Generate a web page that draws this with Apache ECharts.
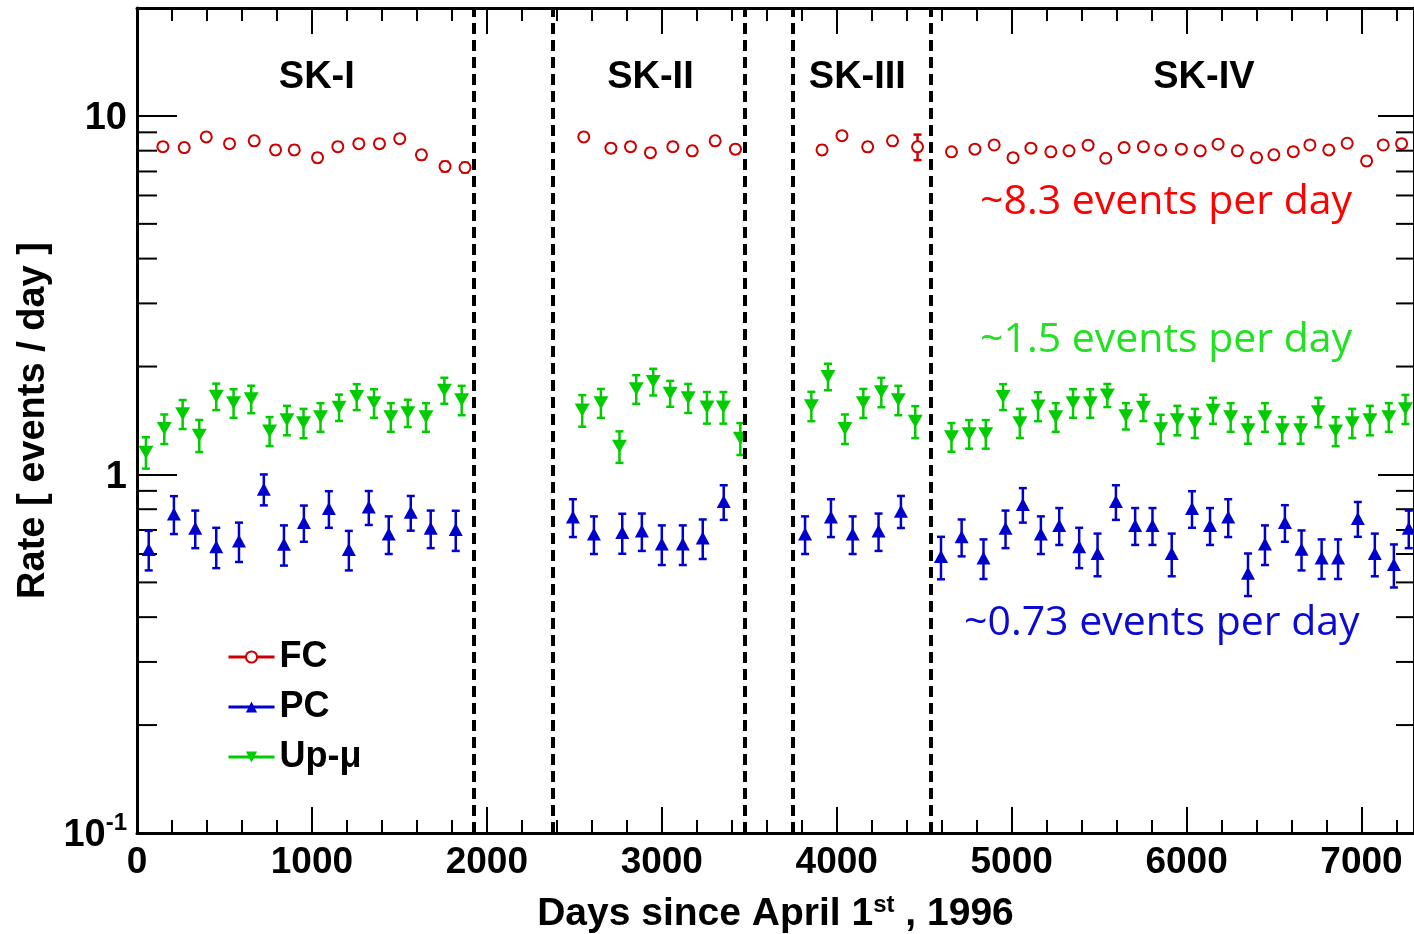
<!DOCTYPE html>
<html>
<head>
<meta charset="utf-8">
<script src="https://cdn.jsdelivr.net/npm/echarts@6/dist/echarts.min.js"></script>
<style>
  html, body { margin: 0; padding: 0; background: #fff; }
  #chart { width: 1414px; height: 934px; }
</style>
</head>
<body>
<div id="chart"></div>
<script>
// FC (fully contained) rate per bin
const fcDays = [148, 270, 396, 529, 670, 792, 899, 1032, 1148, 1268, 1386, 1502, 1626, 1761, 1875,
  2554, 2709, 2821, 2935, 3063, 3174, 3305, 3421,
  3916, 4030, 4177, 4319, 4462,
  4656, 4790, 4900, 5008, 5110, 5224, 5328, 5437, 5538, 5643, 5753, 5852, 5970, 6078, 6180, 6290, 6400, 6499, 6610, 6705, 6813, 6918, 7029, 7124, 7229];
const fcRate = [8.21, 8.16, 8.74, 8.37, 8.52, 8.04, 8.04, 7.65, 8.21, 8.37, 8.37, 8.64, 7.79, 7.23, 7.18,
  8.74, 8.13, 8.21, 7.90, 8.21, 7.99, 8.52, 8.08,
  8.04, 8.81, 8.20, 8.52, 8.20,
  7.94, 8.08, 8.30, 7.65, 8.13, 7.94, 7.99, 8.29, 7.62, 8.16, 8.21, 8.04, 8.08, 7.99, 8.34, 7.99, 7.65, 7.79, 7.95, 8.30, 8.04, 8.39, 7.49, 8.30, 8.37];
const fcErr = [0.22, 0.22, 0.22, 0.22, 0.22, 0.22, 0.22, 0.22, 0.22, 0.22, 0.22, 0.22, 0.22, 0.22, 0.22,
  0.22, 0.22, 0.22, 0.22, 0.22, 0.22, 0.22, 0.22,
  0.22, 0.22, 0.22, 0.22, 0.67,
  0.2, 0.2, 0.2, 0.2, 0.2, 0.2, 0.2, 0.2, 0.2, 0.2, 0.2, 0.2, 0.2, 0.2, 0.2, 0.2, 0.2, 0.2, 0.2, 0.2, 0.2, 0.2, 0.2, 0.2, 0.2];

// PC (partially contained)
const pcDays = [67, 211, 333, 453, 583, 725, 840, 954, 1097, 1211, 1325, 1439, 1565, 1679, 1822,
  2492, 2612, 2774, 2886, 3000, 3120, 3234, 3354,
  3819, 3967, 4091, 4239, 4367,
  4596, 4714, 4839, 4965, 5064, 5167, 5272, 5386, 5491, 5596, 5706, 5805, 5915, 6031, 6134, 6238, 6351, 6448, 6562, 6657, 6772, 6866, 6979, 7076, 7185, 7270];
const pcRate = [0.618, 0.776, 0.708, 0.629, 0.652, 0.910, 0.639, 0.734, 0.804, 0.618, 0.811, 0.682, 0.784, 0.708, 0.702,
  0.761, 0.682, 0.689, 0.695, 0.640, 0.640, 0.665, 0.840,
  0.682, 0.761, 0.682, 0.695, 0.790,
  0.590, 0.670, 0.585, 0.708, 0.825, 0.682, 0.721, 0.629, 0.602, 0.840, 0.721, 0.721, 0.602, 0.804, 0.721, 0.761, 0.530, 0.640, 0.735, 0.619, 0.585, 0.585, 0.754, 0.602, 0.561, 0.708];
const pcErr = [0.078, 0.094, 0.085, 0.081, 0.082, 0.090, 0.082, 0.085, 0.094, 0.078, 0.088, 0.082, 0.087, 0.085, 0.090,
  0.092, 0.082, 0.088, 0.083, 0.081, 0.081, 0.084, 0.093,
  0.082, 0.092, 0.082, 0.083, 0.081,
  0.080, 0.079, 0.074, 0.085, 0.091, 0.082, 0.085, 0.081, 0.082, 0.093, 0.085, 0.085, 0.082, 0.094, 0.085, 0.092, 0.072, 0.081, 0.086, 0.079, 0.074, 0.074, 0.084, 0.082, 0.077, 0.085];

// upward-going muons
const upDays = [51, 156, 261, 356, 453, 552, 653, 758, 857, 952, 1049, 1155, 1256, 1355, 1451, 1548, 1652, 1757, 1856,
  2545, 2652, 2758, 2854, 2951, 3048, 3151, 3258, 3352, 3449,
  3855, 3950, 4047, 4152, 4255, 4352, 4449,
  4656, 4757, 4852, 4951, 5047, 5151, 5252, 5351, 5449, 5547, 5653, 5753, 5852, 5947, 6047, 6151, 6252, 6351, 6448, 6547, 6652, 6753, 6852, 6947, 7048, 7156, 7251];
const upRate = [1.154, 1.343, 1.476, 1.287, 1.652, 1.584, 1.625, 1.323, 1.420, 1.393, 1.448, 1.540, 1.649, 1.584, 1.448, 1.486, 1.448, 1.718, 1.615,
  1.512, 1.585, 1.198, 1.733, 1.816, 1.684, 1.636, 1.542, 1.542, 1.262,
  1.554, 1.877, 1.343, 1.585, 1.700, 1.615, 1.407,
  1.274, 1.299, 1.299, 1.649, 1.394, 1.552, 1.448, 1.584, 1.584, 1.665, 1.458, 1.539, 1.342, 1.420, 1.394, 1.510, 1.448, 1.332, 1.448, 1.332, 1.332, 1.495, 1.322, 1.394, 1.420, 1.448, 1.525];
const upErr = [0.116, 0.127, 0.137, 0.132, 0.140, 0.145, 0.143, 0.123, 0.134, 0.131, 0.133, 0.130, 0.137, 0.145, 0.133, 0.130, 0.133, 0.143, 0.152,
  0.153, 0.147, 0.121, 0.159, 0.155, 0.140, 0.152, 0.156, 0.156, 0.129,
  0.146, 0.159, 0.127, 0.147, 0.160, 0.152, 0.144,
  0.117, 0.119, 0.119, 0.137, 0.130, 0.144, 0.133, 0.145, 0.145, 0.123, 0.123, 0.130, 0.125, 0.134, 0.130, 0.126, 0.133, 0.114, 0.133, 0.114, 0.114, 0.141, 0.123, 0.130, 0.134, 0.133, 0.142];

// detector phases
const phaseEdges = [1925, 2376, 3472, 3746, 4540];
const phaseNames = ["SK-I", "SK-II", "SK-III", "SK-IV"];
const phaseCenters = [1028, 2935, 4118, 6099];
const phaseLabelY = 12.8;

// log axis minor tick values
const yMinorTicks = [0.2, 0.3, 0.4, 0.5, 0.6, 0.7, 0.8, 0.9, 2, 3, 4, 5, 6, 7, 8, 9];

const notes = ["~8.3 events per day", "~1.5 events per day", "~0.73 events per day"];

const X_MAX = 7300;
const FONT = "'Liberation Sans', Arial, sans-serif";
const NOTE_FONT = "41px 'Open Sans', sans-serif";
const RED = "#cc0000", BLUE = "#0000cc", GREEN = "#00cc00";

function points(days, rate) {
  return days.map((d, i) => [d, rate[i]]);
}
function bars(days, rate, err) {
  return days.map((d, i) => [d, rate[i] - err[i], rate[i] + err[i]]);
}

function errorBarSeries(name, data, color) {
  return {
    name: name,
    type: "custom",
    data: data,
    encode: { x: 0, y: [1, 2] },
    z: 3,
    silent: true,
    renderItem: function (params, api) {
      const x = api.value(0);
      const lo = api.coord([x, api.value(1)]);
      const hi = api.coord([x, api.value(2)]);
      const cap = 4;
      const style = { stroke: color, lineWidth: 2.5 };
      return {
        type: "group",
        children: [
          { type: "line", shape: { x1: lo[0], y1: lo[1], x2: hi[0], y2: hi[1] }, style: style },
          { type: "line", shape: { x1: lo[0] - cap, y1: lo[1], x2: lo[0] + cap, y2: lo[1] }, style: style },
          { type: "line", shape: { x1: hi[0] - cap, y1: hi[1], x2: hi[0] + cap, y2: hi[1] }, style: style },
        ],
      };
    },
  };
}

var chart = echarts.init(document.getElementById("chart"));

var option = {
  animation: false,
  backgroundColor: "#fff",
  grid: { left: 137, right: 0, top: 8, bottom: 101, containLabel: false, outerBoundsMode: "none" },
  legend: {
    data: ["FC", "PC", "Up-μ"],
    orient: "vertical",
    left: 222,
    top: 634,
    itemWidth: 46,
    itemHeight: 14,
    itemGap: 14,
    lineStyle: { width: 3 },
    textStyle: { fontFamily: FONT, fontWeight: "bold", fontSize: 36, color: "#000" },
  },
  xAxis: [
    {
      type: "value",
      min: 0,
      max: X_MAX,
      interval: 1000,
      name: "{n|Days since April 1}{s|st}{n| , 1996}",
      nameLocation: "middle",
      nameGap: 60,
      nameTextStyle: {
        rich: {
          n: { fontFamily: FONT, fontWeight: "bold", fontSize: 39, color: "#000", lineHeight: 42 },
          s: { fontFamily: FONT, fontWeight: "bold", fontSize: 24, color: "#000", verticalAlign: "top", lineHeight: 42 },
        },
      },
      axisLine: { onZero: false, lineStyle: { color: "#000", width: 3 } },
      axisTick: { inside: true, length: 26, lineStyle: { color: "#000", width: 2 } },
      minorTick: { show: true, splitNumber: 5, length: 13, lineStyle: { color: "#000", width: 2 } },
      axisLabel: {
        fontFamily: FONT, fontWeight: "bold", fontSize: 37, color: "#000",
        margin: 11, showMaxLabel: false,
        formatter: (v) => String(v),
      },
      splitLine: { show: false },
    },
    {
      type: "value",
      position: "top",
      min: 0,
      max: X_MAX,
      interval: 1000,
      axisLine: { onZero: false, lineStyle: { color: "#000", width: 3 } },
      axisTick: { inside: true, length: 26, lineStyle: { color: "#000", width: 2 } },
      minorTick: { show: true, splitNumber: 5, length: 13, lineStyle: { color: "#000", width: 2 } },
      axisLabel: { show: false },
      splitLine: { show: false },
    },
  ],
  yAxis: [
    {
      type: "log",
      logBase: 10,
      min: 0.1,
      max: 20,
      name: "Rate [ events / day ]",
      nameLocation: "middle",
      nameGap: 82,
      nameTextStyle: { fontFamily: FONT, fontWeight: "bold", fontSize: 38, color: "#000" },
      axisLine: { onZero: false, lineStyle: { color: "#000", width: 3 } },
      axisTick: { inside: true, length: 40, lineStyle: { color: "#000", width: 2 } },
      axisLabel: {
        margin: 10,
        showMaxLabel: false,
        formatter: function (v) {
          if (Math.abs(v - 0.1) < 1e-6) return "{b|10}{s|-1}";
          if (Math.abs(v - 1) < 1e-6) return "{b|1}";
          if (Math.abs(v - 10) < 1e-6) return "{b|10}";
          return "";
        },
        rich: {
          b: { fontFamily: FONT, fontWeight: "bold", fontSize: 38, color: "#000", lineHeight: 44, padding: [6, 0, 0, 0] },
          s: { fontFamily: FONT, fontWeight: "bold", fontSize: 24, color: "#000", verticalAlign: "top", lineHeight: 44 },
        },
      },
      splitLine: { show: false },
    },
    {
      type: "log",
      logBase: 10,
      position: "right",
      min: 0.1,
      max: 20,
      axisLine: { onZero: false, lineStyle: { color: "#000", width: 3 } },
      axisTick: { inside: true, length: 36, lineStyle: { color: "#000", width: 2 } },
      axisLabel: { show: false },
      splitLine: { show: false },
    },
  ],
  graphic: [
    { type: "text", left: 980, top: 182, style: { text: notes[0], fill: "#ff0000", font: NOTE_FONT } },
    { type: "text", left: 980, top: 320, style: { text: notes[1], fill: "#22e022", font: NOTE_FONT } },
    { type: "text", left: 964, top: 603, style: { text: notes[2], fill: "#0a0ad2", font: NOTE_FONT } },
  ],
  series: [
    // minor log ticks on left and right frame
    {
      name: "yminor",
      type: "custom",
      data: yMinorTicks.map((v) => [0, v]),
      encode: { x: 0, y: 1 },
      silent: true,
      clip: false,
      renderItem: function (params, api) {
        const v = api.value(1);
        const l = api.coord([0, v]);
        const r = api.coord([X_MAX, v]);
        const style = { stroke: "#000", lineWidth: 2 };
        return {
          type: "group",
          children: [
            { type: "line", shape: { x1: l[0], y1: l[1], x2: l[0] + 20, y2: l[1] }, style: style },
            { type: "line", shape: { x1: r[0] - 18, y1: r[1], x2: r[0], y2: r[1] }, style: style },
          ],
        };
      },
    },
    errorBarSeries("fcErr", bars(fcDays, fcRate, fcErr), RED),
    errorBarSeries("pcErr", bars(pcDays, pcRate, pcErr), BLUE),
    errorBarSeries("upErr", bars(upDays, upRate, upErr), GREEN),
    {
      name: "FC",
      type: "line",
      data: points(fcDays, fcRate),
      symbol: "emptyCircle",
      symbolSize: 11,
      showAllSymbol: true,
      color: RED,
      itemStyle: { color: RED, borderColor: RED, borderWidth: 2.5 },
      lineStyle: { width: 0 },
      z: 4,
      markLine: {
        silent: true,
        symbol: "none",
        label: { show: false },
        lineStyle: { color: "#000", width: 4, type: [11, 6] },
        data: phaseEdges.map((d) => ({ xAxis: d })),
      },
    },
    {
      name: "PC",
      type: "line",
      data: points(pcDays, pcRate),
      symbol: "triangle",
      symbolSize: [14, 13],
      showAllSymbol: true,
      color: BLUE,
      itemStyle: { color: BLUE },
      lineStyle: { width: 0 },
      z: 4,
    },
    {
      name: "Up-μ",
      type: "line",
      data: points(upDays, upRate),
      symbol: "triangle",
      symbolRotate: 180,
      symbolSize: [15, 13],
      showAllSymbol: true,
      color: GREEN,
      itemStyle: { color: GREEN },
      lineStyle: { width: 0 },
      z: 4,
    },
    {
      name: "phases",
      type: "scatter",
      data: phaseNames.map((n, i) => ({ value: [phaseCenters[i], phaseLabelY], name: n })),
      symbolSize: 0,
      silent: true,
      label: {
        show: true,
        position: "inside",
        formatter: (p) => p.name,
        fontFamily: FONT,
        fontWeight: "bold",
        fontSize: 38,
        color: "#000",
        opacity: 1,
        textBorderWidth: 0,
      },
    },
  ],
};

chart.setOption(option);
</script>
</body>
</html>
